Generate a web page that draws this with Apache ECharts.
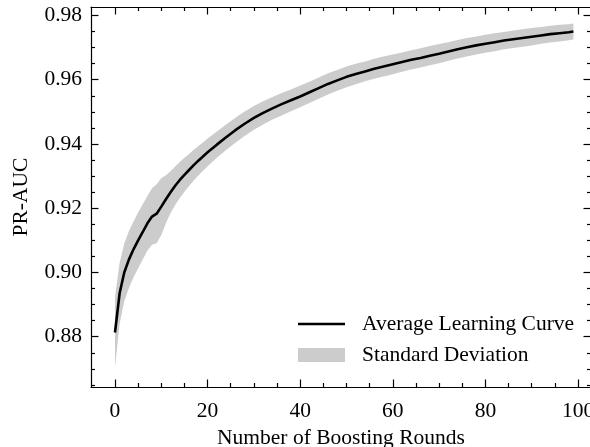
<!DOCTYPE html>
<html>
<head>
<meta charset="utf-8">
<script src="https://cdn.jsdelivr.net/npm/echarts@6/dist/echarts.min.js"></script>
<style>
html,body{margin:0;padding:0;background:#fff;}
#chart{width:590px;height:447px;}
</style>
</head>
<body>
<div id="chart"></div>
<script>
// ---- data ----
const ROUNDS = [0,1,2,3,4,5,6,7,8,9,10,11,12,13,14,15,16,17,18,19,20,
  22,24,26,28,30,32,34,36,38,40,42,44,46,48,50,52,54,56,58,60,
  62,64,66,68,70,72,74,76,78,80,82,84,86,88,90,92,94,96,98,99];
const MEAN_PR_AUC = [0.8813,0.8935,0.9000,0.9040,0.9072,0.9100,0.9126,0.9153,0.9174,0.9183,0.9205,
  0.9228,0.9250,0.9270,0.9288,0.9304,0.9319,0.9334,0.9348,0.9361,0.9374,
  0.9398,0.9421,0.9443,0.9463,0.9481,0.9497,0.9511,0.9524,0.9536,0.9548,
  0.9561,0.9574,0.9587,0.9598,0.9609,0.9618,0.9626,0.9634,0.9641,0.9648,
  0.9655,0.9662,0.9668,0.9675,0.9681,0.9688,0.9695,0.9701,0.9707,0.9712,
  0.9717,0.9722,0.9726,0.9730,0.9734,0.9738,0.9742,0.9745,0.9748,0.9750];
const STD_PR_AUC = [0.0110,0.0095,0.0090,0.0088,0.0087,0.0087,0.0086,0.0085,0.0088,0.0092,0.0088,
  0.0075,0.0065,0.0060,0.0056,0.0053,0.0050,0.0048,0.0046,0.0044,0.0043,
  0.0041,0.0040,0.0039,0.0038,0.0037,0.0036,0.0035,0.0035,0.0034,0.0034,
  0.0033,0.0033,0.0033,0.0032,0.0032,0.0032,0.0031,0.0031,0.0031,0.0031,
  0.0030,0.0030,0.0030,0.0030,0.0030,0.0029,0.0029,0.0029,0.0028,0.0028,
  0.0028,0.0027,0.0027,0.0027,0.0027,0.0026,0.0026,0.0026,0.0025,0.0025];
const X_MAJOR = [0,20,40,60,80,100];
const X_MINOR = [5,10,15,25,30,35,45,50,55,65,70,75,85,90,95];
const Y_MAJOR = [0.88,0.90,0.92,0.94,0.96,0.98];
const Y_MINOR = [0.865,0.87,0.875,0.885,0.89,0.895,0.905,0.91,0.915,0.925,0.93,0.935,0.945,0.95,0.955,0.965,0.97,0.975];
const LINE_NAME = 'Average Learning Curve';
const BAND_NAME = 'Standard Deviation';
const X_TITLE = 'Number of Boosting Rounds';
const Y_TITLE = 'PR-AUC';

// ---- chart ----
const FONT = '"Liberation Serif", "Times New Roman", serif';
const FS = 21.5;
const X_MIN = -5.18, X_MAX = 102.8;
const Y_MIN = 0.86434, Y_MAX = 0.98265;
const MAJOR_LEN = 7.5, MINOR_LEN = 4;
const axisLineStyle = {color:'#000', width:1.2};

function xAxisDef(pos, ticks, len, showLabel, showLine) {
  return {
    type:'value', position:pos, min:X_MIN, max:X_MAX,
    axisLine:{show:showLine, onZero:false, lineStyle:axisLineStyle},
    axisTick:{show:true, inside:true, length:len, customValues:ticks, lineStyle:axisLineStyle},
    axisLabel:{show:showLabel, customValues:ticks, margin:13, color:'#000',
      fontFamily:FONT, fontSize:FS, formatter:v=>String(Math.round(v))},
    splitLine:{show:false}
  };
}
function yAxisDef(pos, ticks, len, showLabel, showLine) {
  return {
    type:'value', position:pos, min:Y_MIN, max:Y_MAX,
    axisLine:{show:showLine, onZero:false, lineStyle:axisLineStyle},
    axisTick:{show:true, inside:true, length:len, customValues:ticks, lineStyle:axisLineStyle},
    axisLabel:{show:showLabel, customValues:ticks, margin:9, color:'#000',
      fontFamily:FONT, fontSize:FS, formatter:v=>v.toFixed(2)},
    splitLine:{show:false}
  };
}

const xAxes = [
  xAxisDef('bottom', X_MAJOR, MAJOR_LEN, true, true),
  xAxisDef('bottom', X_MINOR, MINOR_LEN, false, false),
  xAxisDef('top', X_MAJOR, MAJOR_LEN, false, true),
  xAxisDef('top', X_MINOR, MINOR_LEN, false, false)
];
Object.assign(xAxes[0], {name:X_TITLE, nameLocation:'middle', nameGap:40,
  nameTextStyle:{color:'#000', fontFamily:FONT, fontSize:FS}});
const yAxes = [
  yAxisDef('left', Y_MAJOR, MAJOR_LEN, true, true),
  yAxisDef('left', Y_MINOR, MINOR_LEN, false, false),
  yAxisDef('right', Y_MAJOR, MAJOR_LEN, false, true),
  yAxisDef('right', Y_MINOR, MINOR_LEN, false, false)
];
Object.assign(yAxes[0], {name:Y_TITLE, nameLocation:'middle', nameGap:59, nameRotate:90,
  nameTextStyle:{color:'#000', fontFamily:FONT, fontSize:FS}});

const bandData = ROUNDS.map((x,i)=>[x, MEAN_PR_AUC[i]-STD_PR_AUC[i], MEAN_PR_AUC[i]+STD_PR_AUC[i]]);
const lineData = ROUNDS.map((x,i)=>[x, MEAN_PR_AUC[i]]);

const legendText = {color:'#000', fontFamily:FONT, fontSize:FS, padding:[0,0,0,12]};

const option = {
  backgroundColor:'#fff',
  animation:false,
  grid:{left:91, top:7, width:500, height:380, containLabel:false, outerBoundsMode:'none'},
  xAxis:xAxes,
  yAxis:yAxes,
  legend:[
    {data:[{name:LINE_NAME, icon:'rect', itemStyle:{color:'#000'}}], padding:0,
     left:298, top:313, itemWidth:47, itemHeight:2.5, textStyle:legendText, selectedMode:false},
    {data:[{name:BAND_NAME, icon:'rect', itemStyle:{color:'#cccccc'}}], padding:0,
     left:298, top:344, itemWidth:47, itemHeight:14, textStyle:legendText, selectedMode:false}
  ],
  series:[
    {
      name:BAND_NAME, type:'custom', xAxisIndex:0, yAxisIndex:0,
      itemStyle:{color:'#cccccc'},
      data:bandData,
      encode:{x:0, y:[1,2]},
      renderItem:function(params, api){
        if (params.dataIndex !== 0) return null;
        const up = bandData.map(d=>api.coord([d[0], d[2]]));
        const lo = bandData.map(d=>api.coord([d[0], d[1]])).reverse();
        return {type:'polygon', shape:{points:up.concat(lo)}, style:{fill:'#cccccc'}};
      },
      z:1
    },
    {
      name:LINE_NAME, type:'line', xAxisIndex:0, yAxisIndex:0,
      data:lineData, showSymbol:false, symbol:'none',
      lineStyle:{color:'#000', width:2.6}, itemStyle:{color:'#000'},
      z:3
    }
  ]
};
const chart = echarts.init(document.getElementById('chart'), null, {renderer:'canvas'});
chart.setOption(option);
</script>
</body>
</html>
